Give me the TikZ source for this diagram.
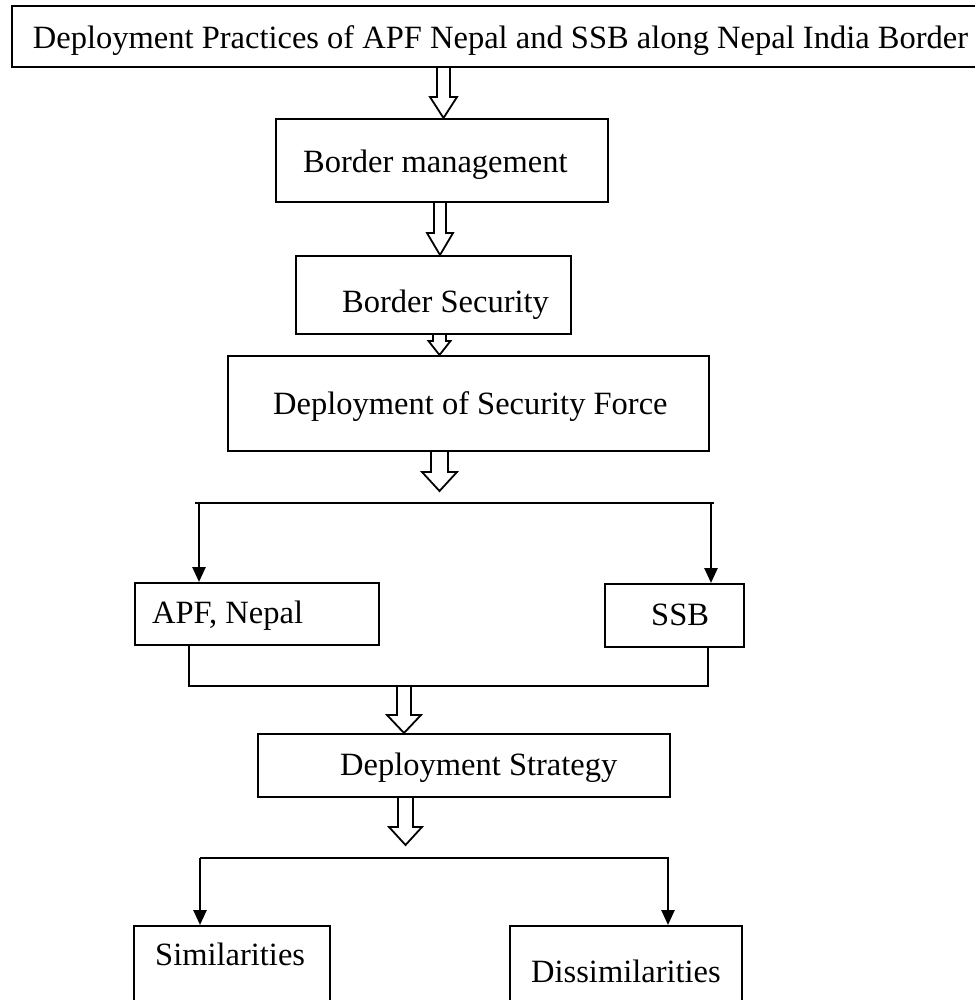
\documentclass[tikz,border=0pt]{standalone}
\usepackage{fontspec}
\setmainfont{Liberation Serif}
\usepackage{tikz}
\usetikzlibrary{arrows.meta}
\usetikzlibrary{calc}

% hollow block arrow: x, from, to, shaft half width, head half width, head length
\newcommand{\blockarrow}[6]{%
  \draw[hollow] let \p1 = (#2), \p2 = (#3) in
    (#1pt-#4pt,\y1) -- (#1pt-#4pt,\y2+#6pt) -- (#1pt-#5pt,\y2+#6pt) -- (#1pt,\y2)
    -- (#1pt+#5pt,\y2+#6pt) -- (#1pt+#4pt,\y2+#6pt) -- (#1pt+#4pt,\y1);
}

\begin{document}
\begin{tikzpicture}[x=1pt,y=-1pt,
  box/.style={draw, line width=2pt, inner sep=0pt},
  txt/.style={anchor=base west, inner sep=0pt, font=\fontsize{32.5}{39}\selectfont},
  hollow/.style={line width=1.8pt, line join=miter},
  arr/.style={line width=2.6pt, -{Triangle[length=15pt,width=13pt]}},
  branch/.style={line width=2.6pt}]
  \useasboundingbox (0,0) rectangle (974,1000);

  % Define the boxes
  \node[box, minimum width=978pt, minimum height=61pt] (top) at (501,36.5) {};
  \node[box, minimum width=332pt, minimum height=83pt] (bm) at (442,160.5) {};
  \node[box, minimum width=275pt, minimum height=78pt] (bs) at (433.5,295) {};
  \node[box, minimum width=481pt, minimum height=95pt] (dsf) at (468.5,403.5) {};
  \node[box, minimum width=244pt, minimum height=62pt] (apf) at (257,614) {};
  \node[box, minimum width=139pt, minimum height=63pt] (ssb) at (674.5,615.5) {};
  \node[box, minimum width=412pt, minimum height=63pt] (ds) at (464,765.5) {};
  \node[box, minimum width=196pt, minimum height=90pt] (sim) at (232,971) {};
  \node[box, minimum width=232pt, minimum height=90pt] (dis) at (626,971) {};

  % Label the boxes
  \node[txt, anchor=base] (toptext) at (500.5,49) {Deployment Practices of APF Nepal and SSB along Nepal India Border};
  \node[txt] (bmtext) at (303,173) {Border management};
  \node[txt] (bstext) at (342,312) {Border Security};
  \node[txt] (dsftext) at (273,414) {Deployment of Security Force};
  \node[txt] (apftext) at (152,623) {APF, Nepal};
  \node[txt] (ssbtext) at (651,625) {SSB};
  \node[txt] (dstext) at (340,775) {Deployment Strategy};
  \node[txt] (simtext) at (155,965) {Similarities};
  \node[txt] (distext) at (531,982) {Dissimilarities};

  % Branch and join points
  \coordinate (fork1) at (439.5,491);
  \coordinate (split1l) at (195,503);
  \coordinate (split1r) at (714,503);
  \coordinate (join1l) at (189,686);
  \coordinate (join1r) at (708,686);
  \coordinate (fork2) at (405.5,845);
  \coordinate (split2l) at (200,858);
  \coordinate (split2r) at (669,858);

  % Hollow arrows down the chain
  \blockarrow{443.5}{top.south}{bm.north}{6.5}{13.5}{21}
  \blockarrow{440}{bm.south}{bs.north}{6}{13}{22}
  \blockarrow{439.5}{bs.south}{dsf.north}{6.5}{11}{14}
  \blockarrow{439.5}{dsf.south}{fork1}{8.5}{17.5}{19}
  \blockarrow{404}{join1l}{ds.north}{7}{17}{18}
  \blockarrow{405.5}{ds.south}{fork2}{7.5}{16.5}{18}

  % First split to the two forces
  \draw[branch] (split1l) -- (split1r);
  \draw[arr] (199,503) -- (199,503 |- apf.north);
  \draw[arr] (711,503) -- (711,503 |- ssb.north);

  % Join the two forces
  \draw[line width=2pt] (join1l |- apf.south) -- (join1l) -- (join1r) -- (join1r |- ssb.south);

  % Second split to the results
  \draw[branch] (split2l) -- (split2r);
  \draw[arr] (split2l) -- (split2l |- sim.north);
  \draw[arr] (668,858) -- (668,858 |- dis.north);
\end{tikzpicture}
\end{document}
